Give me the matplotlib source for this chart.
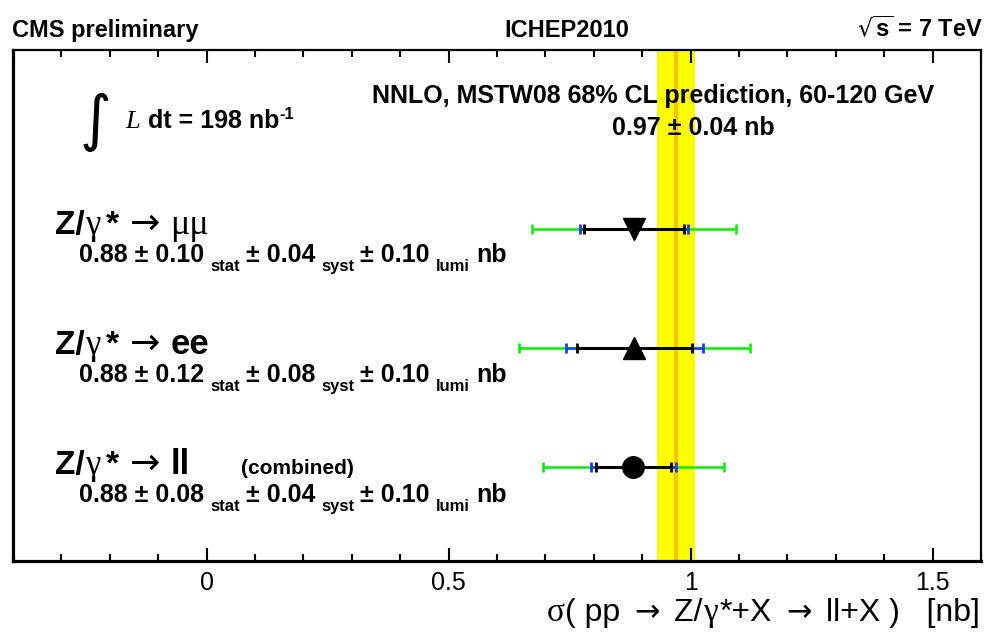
import matplotlib
matplotlib.use('Agg')
import matplotlib.pyplot as plt
import matplotlib.transforms as mtransforms

# --- data ---
channels = ['mumu', 'ee', 'll']
row_y = [3, 2, 1]
markers = ['v', '^', 'o']
xsec = [0.883, 0.884, 0.882]
err_stat = [0.104, 0.118, 0.078]
err_stat_syst = [0.111, 0.141, 0.087]
err_total = [0.210, 0.238, 0.186]
theory = 0.97
theory_err = 0.04

label_stat = ['0.10', '0.12', '0.08']
label_syst = ['0.04', '0.08', '0.04']
label_lumi = ['0.10', '0.10', '0.10']
label_value = ['0.88', '0.88', '0.88']

xticks_major = [0, 0.5, 1, 1.5]
xtick_labels = ['0', '0.5', '1', '1.5']

W, H = 987, 637
FAM = ['Liberation Sans', 'DejaVu Sans']
SERIF = ['Liberation Serif', 'DejaVu Serif']
ARROW = ['DejaVu Sans']

fig = plt.figure(figsize=(W / 100, H / 100), dpi=100)
ax = fig.add_axes([13 / W, 1 - 561 / H, (981 - 13) / W, (561 - 50) / H])

# --- prediction band ---
ax.axvspan(theory - theory_err, theory + theory_err, color='#ffff00', zorder=1, lw=0)
ax.axvline(theory, color='#ffc400', lw=3, zorder=2)

# --- measurements ---
for i in range(len(channels)):
    y = row_y[i]
    ax.errorbar(xsec[i], y, xerr=err_total[i], fmt='none', ecolor='#00ee00',
                elinewidth=1.8, capsize=3.7, capthick=1.8, zorder=3)
    ax.errorbar(xsec[i], y, xerr=err_stat_syst[i], fmt='none', ecolor='#1a3cff',
                elinewidth=1.8, capsize=3.7, capthick=2, zorder=4)
    ax.errorbar(xsec[i], y, xerr=err_stat[i], fmt='none', ecolor='black',
                elinewidth=2.2, capsize=3.7, capthick=2, zorder=5)
    ax.plot(xsec[i], y, marker=markers[i], color='black', ms=15.5, zorder=6, ls='none')

ax.set_xlim(-0.4, 1.6)
ax.set_ylim(0.2076, 4.5017)
ax.set_yticks([])
ax.set_xticks(xticks_major)
ax.set_xticklabels(xtick_labels, fontsize=18, family=FAM)
ax.xaxis.set_minor_locator(matplotlib.ticker.MultipleLocator(0.1))
ax.tick_params(axis='x', which='both', direction='in', top=True, width=1.5, pad=7)
ax.tick_params(axis='x', which='major', length=9.5)
ax.tick_params(axis='x', which='minor', length=5)
for s in ['left', 'bottom']:
    ax.spines[s].set_linewidth(2.3)
for s in ['top', 'right']:
    ax.spines[s].set_linewidth(1.6)

renderer = fig.canvas.get_renderer()


def rich(x, y, parts, ha='left'):
    # x, y: pixel position (y from the top, baseline); parts: (text, size, weight, family, style, dy, gap)
    texts = []
    xo = 0.0
    for s, size, weight, fam, style, dy, gap in parts:
        tr = mtransforms.offset_copy(fig.transFigure, fig=fig, x=xo, y=dy, units='dots')
        t = fig.text(x / W, 1 - y / H, s, fontsize=size, fontweight=weight, family=fam,
                     style=style, va='baseline', ha='left', transform=tr)
        texts.append((t, dy, gap))
        xo += t.get_window_extent(renderer).width + gap
    if ha == 'center':
        shift = -xo / 2
    elif ha == 'right':
        shift = -xo
    else:
        shift = 0
    if shift:
        xo = 0.0
        for t, dy, gap in texts:
            t.set_transform(mtransforms.offset_copy(fig.transFigure, fig=fig, x=xo + shift, y=dy, units='dots'))
            xo += t.get_window_extent(renderer).width + gap
    return texts


# --- header ---
fig.text(12 / W, 1 - 37 / H, 'CMS preliminary', fontsize=17, fontweight='bold', family=FAM, va='baseline')
fig.text(567 / W, 1 - 37 / H, 'ICHEP2010', fontsize=17, fontweight='bold', family=FAM, va='baseline', ha='center')
fig.text(983 / W, 1 - 37 / H, r'$\sqrt{\mathregular{s}}$ = 7 TeV', fontsize=17, fontweight='bold',
         family=FAM, va='baseline', ha='right')

# --- luminosity ---
fig.text(95 / W, 1 - 122 / H, '\u222b', fontsize=44, fontweight='normal', family=ARROW,
         ha='center', va='center')
rich(125, 128, [
    ('L', 19, 'normal', SERIF, 'italic', 0, 8),
    ('dt = 198 nb', 18, 'bold', FAM, 'normal', 0, 0),
    ('-1', 12, 'bold', FAM, 'normal', 9, 0),
])

# --- prediction text ---
fig.text(653 / W, 1 - 103 / H, 'NNLO, MSTW08 68% CL prediction, 60-120 GeV', fontsize=18,
         fontweight='bold', family=FAM, va='baseline', ha='center')
fig.text(693 / W, 1 - 135 / H, '%.2f \u00b1 %.2f nb' % (theory, theory_err), fontsize=18,
         fontweight='bold', family=FAM, va='baseline', ha='center')

# --- channel labels ---
final_states = [
    [('\u03bc\u03bc', 26, 'normal', SERIF, 'normal', 0, 0)],
    [('ee', 25, 'bold', FAM, 'normal', 0, 0)],
    [('ll', 25, 'bold', FAM, 'normal', 0, 52),
     ('(combined)', 15, 'bold', FAM, 'normal', 0, 0)],
]
label_base = [234, 354, 474]
for i in range(len(channels)):
    yb = label_base[i]
    rich(55, yb, [
        ('Z/', 24, 'bold', FAM, 'normal', 0, 0),
        ('\u03b3', 25, 'normal', SERIF, 'normal', 0, 6),
        ('*', 24, 'bold', FAM, 'normal', 0, 11),
        ('\u2192', 26, 'normal', ARROW, 'normal', 0, 10),
    ] + final_states[i])
    sub = -9
    rich(79, yb + 28, [
        ('%s \u00b1 %s' % (label_value[i], label_stat[i]), 18, 'bold', FAM, 'normal', 0, 6),
        ('stat', 12, 'bold', FAM, 'normal', sub, 6),
        ('\u00b1 %s' % label_syst[i], 18, 'bold', FAM, 'normal', 0, 6),
        ('syst', 12, 'bold', FAM, 'normal', sub, 6),
        ('\u00b1 %s' % label_lumi[i], 18, 'bold', FAM, 'normal', 0, 6),
        ('lumi', 12, 'bold', FAM, 'normal', sub, 7),
        ('nb', 18, 'bold', FAM, 'normal', 0, 0),
    ])

# --- x axis title ---
rich(980, 621, [
    ('\u03c3', 24, 'normal', SERIF, 'normal', 0, 0),
    ('( pp', 23, 'normal', FAM, 'normal', 0, 15),
    ('\u2192', 22, 'normal', ARROW, 'normal', 0, 14),
    ('Z/', 23, 'normal', FAM, 'normal', 0, 0),
    ('\u03b3', 24, 'normal', SERIF, 'normal', 0, 2),
    ('*+X', 23, 'normal', FAM, 'normal', 0, 15),
    ('\u2192', 22, 'normal', ARROW, 'normal', 0, 14),
    ('ll+X )   [nb]', 23, 'normal', FAM, 'normal', 0, 0),
], ha='right')

fig.savefig('out.png', dpi=100)
